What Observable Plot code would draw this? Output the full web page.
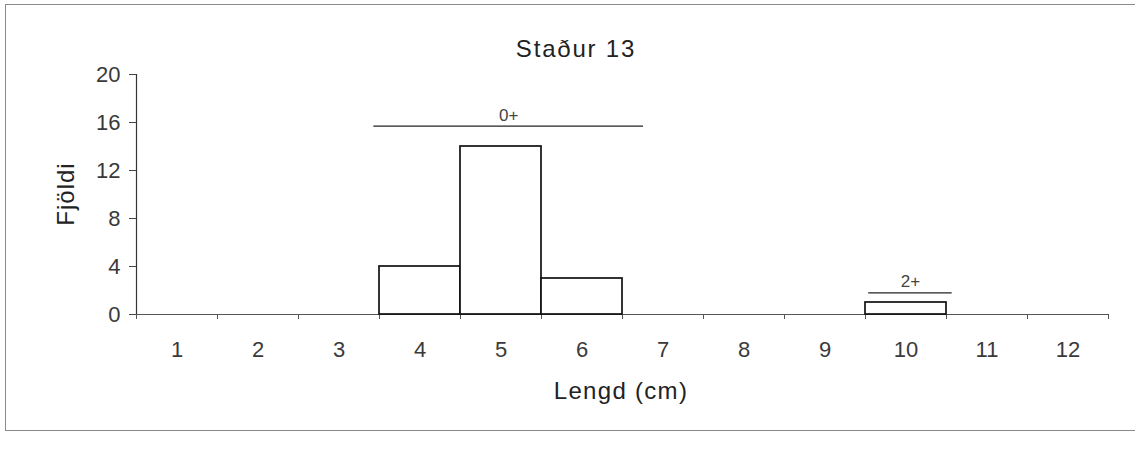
<!DOCTYPE html>
<html>
<head>
<meta charset="utf-8">
<script src="https://cdn.jsdelivr.net/npm/d3@7"></script>
<script src="https://cdn.jsdelivr.net/npm/@observablehq/plot@0.6"></script>
<style>
  html, body { margin: 0; padding: 0; background: #fff; overflow: hidden; }
  #wrap { position: relative; width: 1135px; height: 450px; overflow: hidden; font-family: "Liberation Sans", Arial, sans-serif; }
  #frame { position: absolute; left: 5px; top: 4px; width: 1145px; height: 427px; border: 1.5px solid #8a8a8a; box-sizing: border-box; }
  #title { position: absolute; left: 426px; width: 300px; top: 35px; text-align: center; font-size: 24px; color: #222; letter-spacing: 1.8px; }
  #xlabel { position: absolute; left: 471px; width: 300px; top: 377px; text-align: center; font-size: 24px; color: #222; letter-spacing: 1.3px; }
  #ylabel { position: absolute; left: 66px; top: 194px; transform: translate(-50%, -50%) rotate(-90deg); font-size: 24px; color: #222; letter-spacing: 1px; white-space: nowrap; }
  #chart { position: absolute; left: 0; top: 0; }
</style>
</head>
<body>
<div id="wrap">
  <div id="frame"></div>
  <div id="chart"></div>
  <div id="title">Staður 13</div>
  <div id="ylabel">Fjöldi</div>
  <div id="xlabel">Lengd (cm)</div>
</div>
<script>
// Data
const lengths = [1, 2, 3, 4, 5, 6, 7, 8, 9, 10, 11, 12];
const counts  = [0, 0, 0, 4, 14, 3, 0, 0, 0, 1, 0, 0];
const yTicks  = [0, 4, 8, 12, 16, 20];
// Age-group annotations
const groupLabels = ["0+", "2+"];
const groupStart  = [3.43, 9.54];
const groupEnd    = [6.76, 10.57];
const groupLevel  = [15.7, 1.8];

const bars = lengths.map((l, i) => ({len: l, n: counts[i]})).filter(d => d.n > 0);
const groups = groupLabels.map((g, i) => ({g, x1: groupStart[i], x2: groupEnd[i], y: groupLevel[i]}));
const boundaries = d3.range(lengths.length + 1).map(i => lengths[0] - 0.5 + i);

const font = "'Liberation Sans', Arial, sans-serif";

const chart = Plot.plot({
  width: 1135,
  height: 450,
  marginLeft: 136,
  marginRight: 27,
  marginTop: 74,
  marginBottom: 136,
  style: { fontFamily: font, background: "transparent", color: "#333" },
  x: { domain: [0.5, 12.5] },
  y: { domain: [0, 20] },
  marks: [
    Plot.axisY({ ticks: yTicks, tickSize: 7, tickPadding: 9, fontSize: 22, label: null, fill: "#3a3a3a", stroke: "#444" }),
    Plot.axisX({ ticks: lengths, tickSize: 0, tickPadding: 27, fontSize: 22, label: null, fill: "#3a3a3a" }),
    Plot.axisX({ ticks: boundaries, tickSize: 5, tickFormat: () => "", label: null, stroke: "#555" }),
    Plot.ruleY([0], { stroke: "#555", strokeWidth: 1.2 }),
    Plot.ruleX([0.5], { stroke: "#333", strokeWidth: 1.2 }),
    Plot.rectY(bars, { x1: d => d.len - 0.5, x2: d => d.len + 0.5, y: "n", fill: "white", stroke: "#111", strokeWidth: 1.7 }),
    Plot.ruleY(groups, { x1: "x1", x2: "x2", y: "y", stroke: "#222", strokeWidth: 1.3 }),
    Plot.text(groups, { x: d => (d.x1 + d.x2) / 2, y: "y", text: "g", dy: -11, fontSize: 17, fill: "#444" })
  ]
});
document.getElementById("chart").appendChild(chart);
</script>
</body>
</html>
